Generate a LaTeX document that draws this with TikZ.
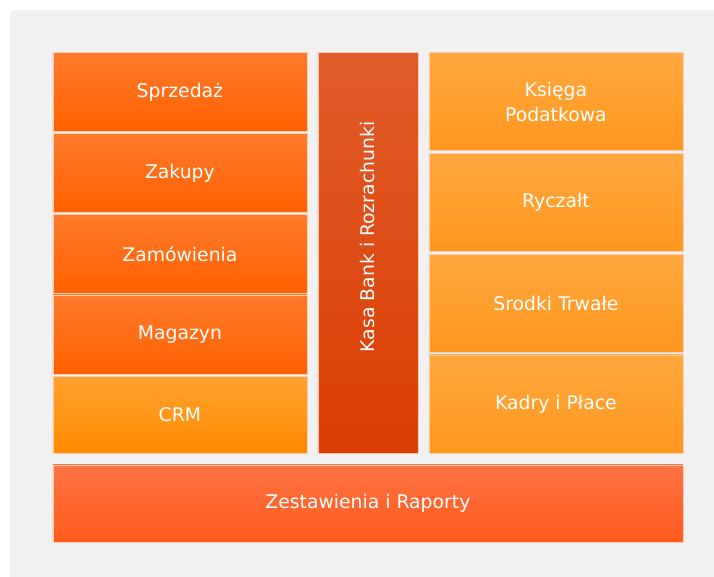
\documentclass[tikz,border=0pt]{standalone}
\usepackage{fontspec}
\setmainfont{DejaVu Sans}
\definecolor{panel}{HTML}{F1F1F1}
\definecolor{edge}{HTML}{F8CDB0}
\definecolor{leftTop}{HTML}{FF7B2C}
\definecolor{leftBot}{HTML}{FF6000}
\definecolor{crmTop}{HTML}{FFA22E}
\definecolor{crmBot}{HTML}{FF8A00}
\definecolor{midTop}{HTML}{E15C2A}
\definecolor{midBot}{HTML}{DB3D02}
\definecolor{rightTop}{HTML}{FFA83E}
\definecolor{rightBot}{HTML}{FF971E}
\definecolor{sumTop}{HTML}{FF7343}
\definecolor{sumBot}{HTML}{FF5A1C}
\tikzset{
  modbox/.style={draw=edge, line width=0.8pt, anchor=north west, inner sep=0pt,
    text=white, align=center, font=\fontsize{18.8}{25}\selectfont},
  leftbox/.style={modbox, top color=leftTop, bottom color=leftBot,
    minimum width=254pt, minimum height=79pt},
  rightbox/.style={modbox, top color=rightTop, bottom color=rightBot,
    minimum width=254pt, minimum height=98pt}
}
\begin{document}
\begin{tikzpicture}[x=1pt,y=-1pt]
	\useasboundingbox (0,0) rectangle (714,577);
	\fill[white] (0,0) rectangle (714,577);
	\fill[panel] (714,577) -- (10,577) [rounded corners=5pt] -- (10,10) [sharp corners] -- (714,10) -- cycle;

	% left column
	\node[leftbox] (sprzedaz) at (52.5,52.5) {Sprzedaż};
	\node[leftbox] (zakupy) at (52.5,133) {Zakupy};
	\node[leftbox] (zamowienia) at (52.5,214) {Zamówienia};
	\node[leftbox] (magazyn) at (52.5,294.5) {Magazyn};
	\node[leftbox, top color=crmTop, bottom color=crmBot, minimum height=77pt] (crm) at (52.5,376) {CRM};

	% middle column
	\node[modbox, top color=midTop, bottom color=midBot, minimum width=100pt, minimum height=400pt] (kasa) at (317.5,52.5) {};
	\node[text=white, rotate=90, inner sep=0pt, font=\fontsize{18.8}{25}\selectfont] (kasatxt) at ([yshift=16pt]kasa.center) {Kasa Bank i Rozrachunki};

	% right column
	\node[rightbox] (ksiega) at (428.5,52.5) {Księga\\Podatkowa};
	\node[rightbox] (ryczalt) at (428.5,153) {Ryczałt};
	\node[rightbox] (srodki) at (428.5,254) {Srodki Trwałe};
	\node[rightbox] (kadry) at (428.5,354.5) {Kadry i Płace};

	% bottom row
	\node[modbox, top color=sumTop, bottom color=sumBot, minimum width=630pt, minimum height=77pt] (raporty) at (52.5,464.5) {Zestawienia i Raporty};
\end{tikzpicture}
\end{document}
